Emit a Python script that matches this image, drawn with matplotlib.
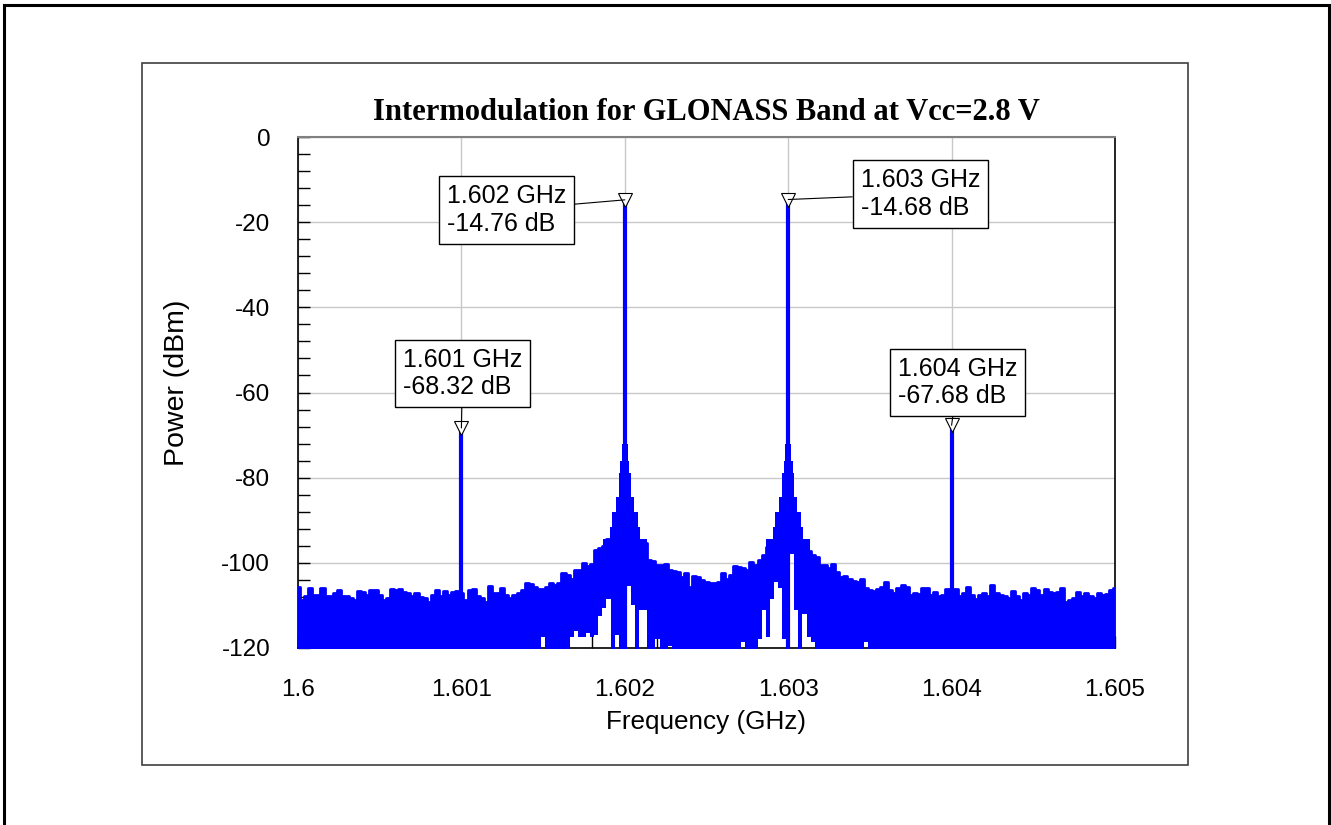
import numpy as np
import matplotlib
matplotlib.use("Agg")
import matplotlib.pyplot as plt
from matplotlib.patches import Rectangle
from matplotlib.ticker import MultipleLocator, FixedLocator, FixedFormatter

plt.rcParams['font.family'] = ['Liberation Sans', 'DejaVu Sans']
plt.rcParams['axes.unicode_minus'] = False

# ---------------- data ----------------
title = "Intermodulation for GLONASS Band at Vcc=2.8 V"
x_label = "Frequency (GHz)"
y_label = "Power (dBm)"
x_ticks = [1.600, 1.601, 1.602, 1.603, 1.604, 1.605]
x_tick_labels = ["1.6", "1.601", "1.602", "1.603", "1.604", "1.605"]
y_ticks = [0, -20, -40, -60, -80, -100, -120]
y_tick_labels = ["0", "-20", "-40", "-60", "-80", "-100", "-120"]

tone_freq = [1.601, 1.602, 1.603, 1.604]
tone_power = [-68.32, -14.76, -14.68, -67.68]
tone_labels = ["1.601 GHz\n-68.32 dB", "1.602 GHz\n-14.76 dB",
               "1.603 GHz\n-14.68 dB", "1.604 GHz\n-67.68 dB"]

# noise floor: upper envelope of the trace on a 25 kHz grid, 1.600 .. 1.605 GHz
noise_start = 1.600
noise_stop = 1.605
noise_top = [
    -105.6, -108.7, -107.9, -106.0, -107.5, -107.5, -106.0, -107.9, -107.9, -107.1,
    -106.4, -107.7, -107.9, -108.3, -108.7, -106.6, -106.8, -107.5, -106.4, -106.4,
    -107.5, -108.7, -108.3, -106.2, -106.4, -106.2, -106.8, -107.0, -107.9, -107.0,
    -108.1, -108.3, -109.1, -107.5, -106.4, -107.7, -106.6, -107.5, -106.8, -106.6,
    -107.0, -108.7, -106.4, -106.2, -107.9, -108.3, -109.1, -105.4, -107.1, -107.0,
    -106.0, -107.5, -108.3, -107.5, -107.0, -106.4, -104.8, -105.0, -105.6, -106.2,
    -106.2, -105.6, -104.8, -105.2, -104.7, -102.5, -102.9, -103.7, -101.8, -101.8,
    -100.0, -100.8, -100.2, -97.0, -96.4, -96.1, -94.5, -94.5, -95.0, -95.0,
    -95.0, -95.0, -95.0, -95.0, -95.0, -95.4, -99.3, -99.5, -100.5, -100.5,
    -100.2, -101.8, -101.9, -102.2, -103.3, -102.5, -105.6, -103.1, -103.3, -104.1,
    -104.5, -104.8, -104.8, -104.5, -102.5, -103.9, -102.9, -100.8, -101.0, -101.3,
    -101.6, -99.7, -100.5, -99.3, -98.2, -96.3, -95.9, -94.5, -95.0, -95.0,
    -95.0, -95.0, -95.0, -94.6, -95.9, -97.3, -98.2, -98.6, -100.5, -100.5,
    -101.3, -100.2, -102.2, -103.3, -103.1, -103.9, -104.3, -104.5, -103.7, -106.0,
    -106.4, -106.6, -106.2, -105.6, -104.5, -106.4, -107.0, -106.0, -105.2, -105.6,
    -107.5, -107.0, -107.3, -106.0, -106.0, -107.5, -106.8, -107.9, -107.5, -106.2,
    -107.0, -106.2, -107.7, -107.1, -105.6, -107.5, -108.5, -107.5, -107.0, -107.9,
    -105.2, -107.1, -107.5, -107.9, -108.3, -106.6, -107.7, -108.7, -107.0, -107.5,
    -106.0, -106.4, -107.5, -106.2, -106.8, -107.1, -106.8, -106.0, -109.1, -108.7,
    -108.3, -106.8, -107.9, -107.1, -107.9, -108.3, -107.1, -107.5, -107.3, -106.4,
    -106.0,
]
noise_bottom_default = -125.0
# places where the trace minima stay above the bottom of the plot (white gaps)
dip_freq = [1.6015, 1.601675, 1.6017, 1.601725, 1.60175, 1.601775, 1.6018, 1.601825,
            1.60185, 1.601875, 1.6019, 1.60195, 1.602025, 1.60205, 1.6021, 1.602125,
            1.6022, 1.602275, 1.602725, 1.602825, 1.60285, 1.602875, 1.6029, 1.602925,
            1.60295, 1.602975, 1.603025, 1.60305, 1.6031, 1.603125, 1.60315, 1.603475]
dip_bottom = [-117.5, -117.5, -116.0, -117.5, -117.5, -116.5, -117.5, -117.0,
              -112.5, -110.5, -108.5, -117.0, -105.5, -110.0, -111.0, -111.0,
              -118.0, -119.5, -118.5, -118.0, -111.0, -117.5, -108.5, -104.5,
              -106.0, -118.0, -97.0, -111.0, -112.0, -117.5, -118.5, -118.5]

# phase-noise skirt around the two main carriers (level, half-width in GHz)
skirt_freq = [1.602, 1.603]
skirt_level = [-72.0, -76.0, -79.0, -84.5, -88.0, -91.5, -94.5]
skirt_halfwidth = [1.8e-5, 2.75e-5, 3.7e-5, 5.5e-5, 8.0e-5, 9.2e-5, 1.35e-4]
skirt_base = -98.0

# ---------------- figure ----------------
W, H = 1331, 825
fig = plt.figure(figsize=(W / 100, H / 100), dpi=100)
fig.patch.set_facecolor('white')

def fx(px):
    return px / W

def fy(py):
    return 1 - py / H

# outer and inner frames
fig.patches.append(Rectangle((fx(4), fy(830)), fx(1329) - fx(4), fy(5) - fy(830),
                             transform=fig.transFigure, fill=False, lw=2.2,
                             edgecolor='black', zorder=0))
fig.patches.append(Rectangle((fx(142), fy(765)), fx(1188) - fx(142), fy(63) - fy(765),
                             transform=fig.transFigure, fill=False, lw=1.2,
                             edgecolor='#404040', zorder=0))

ax = fig.add_axes([fx(298), fy(648), fx(1115) - fx(298), fy(137) - fy(648)])
blue = '#0000ff'

freq = np.linspace(noise_start, noise_stop, len(noise_top))
top = np.array(noise_top)
bottom = np.full(len(noise_top), noise_bottom_default)
step = (noise_stop - noise_start) / (len(noise_top) - 1)
idx = np.rint((np.array(dip_freq) - noise_start) / step).astype(int)
bottom[idx] = dip_bottom

ax.fill_between(freq, bottom, top, step='mid', color=blue, lw=0, zorder=3)
ax.step(freq, top, where='mid', color=blue, lw=2.0, zorder=3)

# skirts
for c in skirt_freq:
    lows = skirt_level[1:] + [skirt_base]
    for lvl, low, hw in zip(skirt_level, lows, skirt_halfwidth):
        ax.bar(c, lvl - low, width=2 * hw, bottom=low, color=blue, lw=0, zorder=3)

# tones
ax.vlines(tone_freq, -125, tone_power, color=blue, lw=3.0, zorder=4)
ax.plot(tone_freq, tone_power, linestyle='none', marker='v', markersize=10.5,
        markerfacecolor='white', markeredgecolor='black', markeredgewidth=0.8, zorder=6)

# marker annotations (box centres in axes fraction)
box_pos = [((462.5 - 298) / 817, (648 - 373.5) / 511),
           ((506.5 - 298) / 817, (648 - 210) / 511),
           ((920.5 - 298) / 817, (648 - 194) / 511),
           ((957.5 - 298) / 817, (648 - 382.5) / 511)]
for f, p, lab, pos in zip(tone_freq, tone_power, tone_labels, box_pos):
    ax.annotate(lab, xy=(f, p), xycoords='data', xytext=pos, textcoords='axes fraction',
                ha='center', va='center', multialignment='left', fontsize=18,
                linespacing=1.2,
                bbox=dict(boxstyle='square,pad=0.32', facecolor='white',
                          edgecolor='black', lw=1.0),
                arrowprops=dict(arrowstyle='-', color='black', lw=0.8,
                                shrinkA=0, shrinkB=0),
                zorder=7)

ax.set_xlim(1.600, 1.605)
ax.set_ylim(-120, 0)
ax.xaxis.set_major_locator(FixedLocator(x_ticks))
ax.xaxis.set_major_formatter(FixedFormatter(x_tick_labels))
ax.yaxis.set_major_locator(FixedLocator(y_ticks))
ax.yaxis.set_major_formatter(FixedFormatter(y_tick_labels))
ax.xaxis.set_minor_locator(MultipleLocator(0.0002))
ax.yaxis.set_minor_locator(MultipleLocator(4))
ax.tick_params(axis='both', which='both', direction='in', length=8.5, width=1.0,
               color='black', top=False, right=False, labelsize=17.5)
ax.tick_params(axis='x', which='both', pad=22)
ax.tick_params(axis='y', which='both', pad=20)
ax.grid(True, which='major', color='#c8c8c8', lw=1.0, zorder=0)
ax.set_axisbelow(True)

for s in ['left', 'bottom', 'right']:
    ax.spines[s].set_color('black')
    ax.spines[s].set_linewidth(1.2)
ax.spines['top'].set_color('#808080')
ax.spines['top'].set_linewidth(1.5)

fig.text(fx(706.5), fy(722), x_label, ha='center', va='center', fontsize=18.8)
fig.text(fx(177), fy(383), y_label, ha='center', va='center', rotation=90, fontsize=20.5)
fig.text(fx(706.5), fy(112), title, ha='center', va='center', fontsize=22,
         fontweight='bold', family=['Liberation Serif', 'DejaVu Serif'])

fig.savefig('out.png', dpi=100, facecolor='white')
